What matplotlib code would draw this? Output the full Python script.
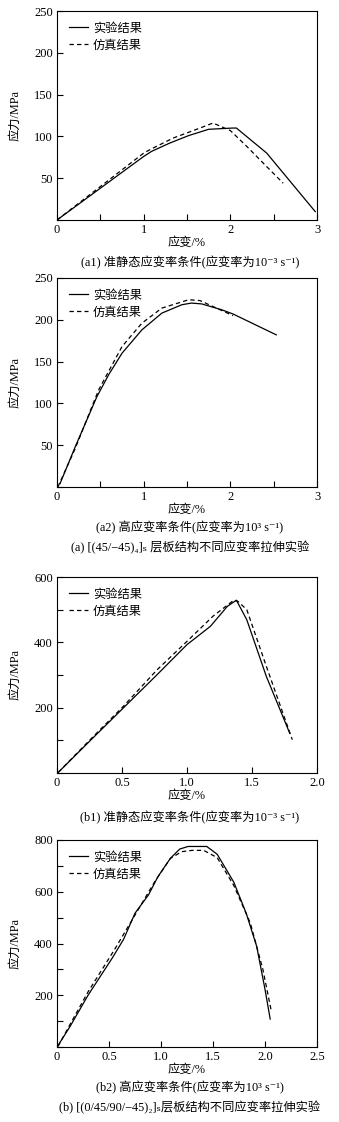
import matplotlib
matplotlib.use("Agg")
import matplotlib.pyplot as plt
from matplotlib.ticker import MultipleLocator

plt.rcParams['font.family'] = ['Liberation Serif', 'Noto Sans CJK SC', 'DejaVu Serif', 'DejaVu Sans']

# Panel a1: quasi-static, [(45/-45)4]s
a1_exp_x = [0, 0.5, 1.0, 1.09, 1.3, 1.52, 1.75, 2.03, 2.07, 2.42, 2.98]
a1_exp_y = [0, 38, 76, 82, 92, 101, 108.5, 110, 110, 80, 10]
a1_sim_x = [0, 0.5, 1.0, 1.07, 1.34, 1.65, 1.8, 2.0, 2.19, 2.38, 2.61]
a1_sim_y = [0, 40, 80, 84, 98, 110, 116, 107, 88, 68, 44]

# Panel a2: high strain rate, [(45/-45)4]s
a2_exp_x = [0.035, 0.21, 0.46, 0.6, 0.75, 0.98, 1.21, 1.44, 1.55, 1.67, 1.9, 2.03, 2.27, 2.53]
a2_exp_y = [4, 48, 108, 135, 160, 188, 208, 218, 220, 219, 212, 207, 195, 182]
a2_sim_x = [0.01, 0.21, 0.48, 0.75, 0.98, 1.21, 1.52, 1.65, 1.84, 2.03]
a2_sim_y = [0, 46, 116, 168, 196, 214, 224, 223, 214, 205]

# Panel b1: quasi-static, [(0/45/90/-45)2]s
b1_exp_x = [0.01, 0.25, 0.51, 0.77, 1.0, 1.18, 1.31, 1.38, 1.46, 1.61, 1.79]
b1_exp_y = [2, 97, 199, 301, 393, 449, 510, 529, 469, 296, 122]
b1_sim_x = [0.01, 0.25, 0.51, 0.77, 1.0, 1.2, 1.36, 1.39, 1.46, 1.61, 1.81]
b1_sim_y = [2, 100, 204, 316, 403, 480, 529, 526, 500, 327, 102]

# Panel b2: high strain rate, [(0/45/90/-45)2]s
b2_exp_x = [0.013, 0.125, 0.3, 0.53, 0.64, 0.75, 0.88, 0.97, 1.09, 1.18, 1.26, 1.44, 1.54, 1.7, 1.82, 1.92, 2.0, 2.05]
b2_exp_y = [8, 79, 201, 343, 416, 517, 588, 658, 729, 765, 775, 775, 745, 637, 516, 389, 223, 108]
b2_sim_x = [0.01, 0.14, 0.3, 0.56, 0.75, 0.94, 1.09, 1.2, 1.3, 1.41, 1.54, 1.7, 1.86, 1.98, 2.06]
b2_sim_y = [2, 98, 214, 381, 510, 639, 729, 755, 760, 760, 732, 624, 478, 299, 140]

legend_labels = ["实验结果", "仿真结果"]
captions = [
    (263, "(a1) 准静态应变率条件(应变率为10⁻³ s⁻¹)"),
    (528, "(a2) 高应变率条件(应变率为10³ s⁻¹)"),
    (548, "(a) [(45/−45)₄]ₛ 层板结构不同应变率拉伸实验"),
    (818, "(b1) 准静态应变率条件(应变率为10⁻³ s⁻¹)"),
    (1088, "(b2) 高应变率条件(应变率为10³ s⁻¹)"),
    (1108, "(b) [(0/45/90/−45)₂]ₛ层板结构不同应变率拉伸实验"),
]

W, H = 339, 1122
fig = plt.figure(figsize=(W / 100, H / 100), dpi=100)
fig.patch.set_facecolor("white")

cjk = 8.8
panels = [
    # top, bottom, exp, sim, xmax, ymax, xmajor, xminor, ymajor, yminor, xfmt
    (11, 220, (a1_exp_x, a1_exp_y), (a1_sim_x, a1_sim_y), 3, 250, 1, 0.5, 50, 50, "{:.0f}"),
    (278, 487, (a2_exp_x, a2_exp_y), (a2_sim_x, a2_sim_y), 3, 250, 1, 0.5, 50, 50, "{:.0f}"),
    (577, 773, (b1_exp_x, b1_exp_y), (b1_sim_x, b1_sim_y), 2, 600, 0.5, 0.5, 200, 100, "{:.1f}"),
    (840, 1047, (b2_exp_x, b2_exp_y), (b2_sim_x, b2_sim_y), 2.5, 800, 0.5, 0.5, 200, 100, "{:.1f}"),
]
left, right = 57, 317

for top, bot, exp, sim, xmax, ymax, xmaj, xmin, ymaj, ymin, xfmt in panels:
    ax = fig.add_axes([left / W, 1 - bot / H, (right - left) / W, (bot - top) / H])
    ax.plot(exp[0], exp[1], color="black", lw=0.9, label=legend_labels[0])
    ax.plot(sim[0], sim[1], color="black", lw=0.9, ls=(0, (3.5, 2.5)), label=legend_labels[1])
    ax.set_xlim(0, xmax)
    ax.set_ylim(0, ymax)
    ax.xaxis.set_major_locator(MultipleLocator(xmaj))
    ax.xaxis.set_minor_locator(MultipleLocator(xmin))
    ax.yaxis.set_major_locator(MultipleLocator(ymaj))
    ax.yaxis.set_minor_locator(MultipleLocator(ymin))
    ax.set_xticklabels([xfmt.format(v) if v > 0 else "0" for v in ax.get_xticks()])
    ax.set_yticklabels(["" if v == 0 else "{:.0f}".format(v) for v in ax.get_yticks()])
    ax.tick_params(which="both", direction="in", top=False, right=False, labelsize=9, pad=3)
    ax.tick_params(which="major", length=4, width=0.8)
    ax.tick_params(which="minor", length=4, width=0.8)
    for s in ax.spines.values():
        s.set_linewidth(0.8)
    ax.legend(loc="upper left", frameon=False, fontsize=cjk, handlelength=1.6,
              handletextpad=0.4, labelspacing=0.4, borderaxespad=0.5, borderpad=0.45)
    fig.text(187 / W, 1 - (bot + 23) / H, "应变/%", ha="center", va="center", fontsize=cjk)
    fig.text(15 / W, 1 - (top + bot) / 2 / H, "应力/MPa", ha="center", va="center",
             rotation=90, fontsize=cjk)

for ypix, txt in captions:
    fig.text(190 / W, 1 - ypix / H, txt, ha="center", va="center", fontsize=cjk)

fig.savefig("out.png", dpi=100, facecolor="white")
